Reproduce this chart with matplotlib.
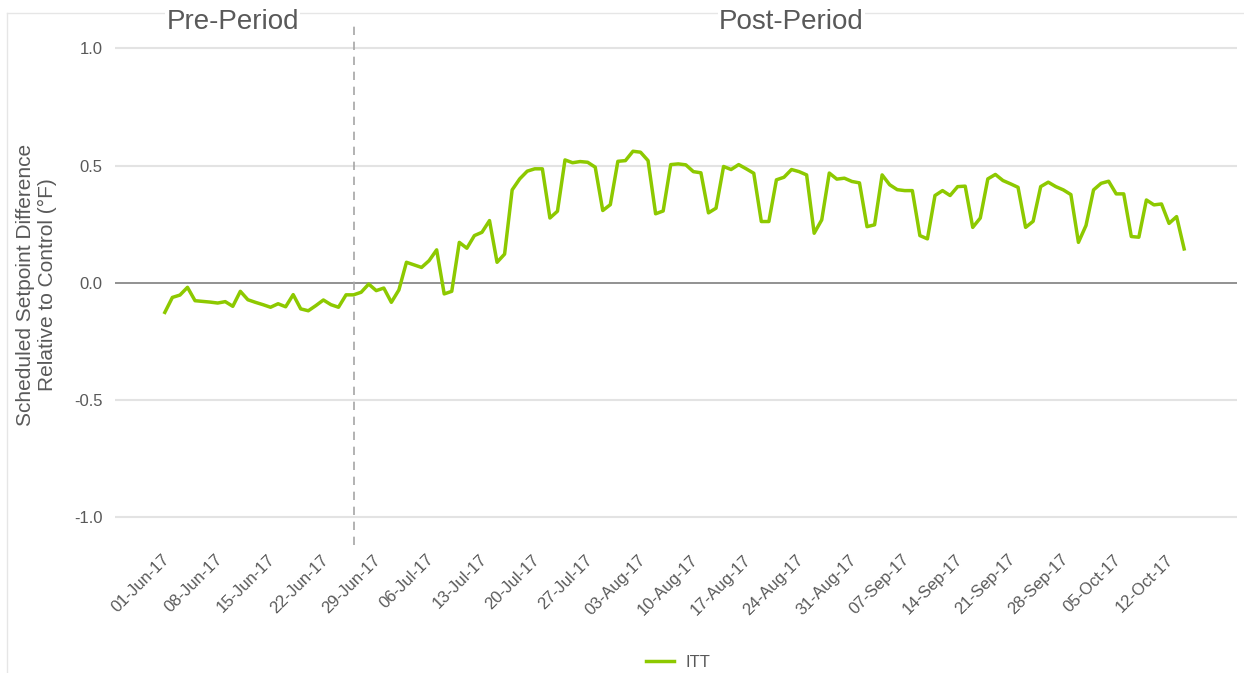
import matplotlib
matplotlib.use("Agg")
import matplotlib.pyplot as plt
import matplotlib.dates as mdates
import matplotlib.transforms as mtransforms
from matplotlib.lines import Line2D
import pandas as pd

plt.rcParams['font.family'] = ['Liberation Sans', 'DejaVu Sans']

# daily ITT estimate, starting 01-Jun-17
itt = [
    -0.127, -0.063, -0.053, -0.020, -0.077, -0.080, -0.083, -0.087, -0.081, -0.101,
    -0.037, -0.073, -0.084, -0.094, -0.105, -0.090, -0.103, -0.051, -0.112, -0.120,
    -0.098, -0.074, -0.094, -0.105, -0.052, -0.052, -0.041, -0.006, -0.034, -0.023,
    -0.084, -0.031, 0.087, 0.076, 0.065, 0.094, 0.140, -0.048, -0.037, 0.172,
    0.147, 0.201, 0.215, 0.265, 0.087, 0.122, 0.396, 0.443, 0.476, 0.486,
    0.486, 0.276, 0.305, 0.524, 0.512, 0.517, 0.514, 0.493, 0.308, 0.333,
    0.518, 0.521, 0.561, 0.557, 0.521, 0.294, 0.306, 0.504, 0.507, 0.503,
    0.474, 0.469, 0.298, 0.318, 0.496, 0.483, 0.504, 0.486, 0.467, 0.261,
    0.261, 0.439, 0.450, 0.483, 0.474, 0.460, 0.211, 0.268, 0.468, 0.442,
    0.446, 0.432, 0.426, 0.239, 0.247, 0.460, 0.418, 0.397, 0.393, 0.393,
    0.201, 0.187, 0.372, 0.393, 0.372, 0.410, 0.412, 0.236, 0.276, 0.443,
    0.462, 0.436, 0.422, 0.407, 0.236, 0.262, 0.410, 0.429, 0.410, 0.396,
    0.376, 0.172, 0.244, 0.396, 0.424, 0.433, 0.379, 0.379, 0.197, 0.194,
    0.353, 0.332, 0.336, 0.253, 0.282, 0.144,
]
dates = pd.date_range("2017-06-01", periods=len(itt), freq="D")
post_start = pd.Timestamp("2017-06-26")
yticks = [-1.0, -0.5, 0.0, 0.5, 1.0]

fig = plt.figure(figsize=(12.44, 6.73), dpi=100)
ax = fig.add_axes([115 / 1244, 1 - 545 / 673, (1237 - 115) / 1244, (545 - 25) / 673])

for y in yticks:
    if y == 0:
        ax.axhline(y, color="#7f7f7f", lw=1.2, zorder=1)
    else:
        ax.axhline(y, color="#e3e3e3", lw=1.5, zorder=0)

ax.plot(dates, itt, color="#8dc900", lw=2.5, label="ITT", zorder=3)
ax.axvline(post_start, color="#a6a6a6", lw=1.2, ls=(0, (5, 4)), zorder=2)

ax.set_ylim(-1.12, 1.1)
ax.set_xlim(dates[0] - pd.Timedelta(days=6.6), dates[0] + pd.Timedelta(days=142))
ax.set_yticks(yticks)
ax.set_yticklabels([f"{v:.1f}" for v in yticks])
ax.set_xticks(pd.date_range("2017-06-01", "2017-10-12", freq="7D"))
ax.xaxis.set_major_formatter(mdates.DateFormatter("%d-%b-%y"))
ax.tick_params(axis="both", length=0, labelsize=12, colors="#595959")
ax.tick_params(axis="x", pad=5)
ax.tick_params(axis="y", pad=9)
shift = mtransforms.ScaledTranslation(-3 / 100, 0, fig.dpi_scale_trans)
for lab in ax.get_xticklabels():
    lab.set_rotation(45)
    lab.set_ha("right")
    lab.set_rotation_mode("anchor")
    lab.set_transform(lab.get_transform() + shift)
for s in ax.spines.values():
    s.set_visible(False)

ax.set_ylabel("Scheduled Setpoint Difference\nRelative to Control (°F)",
              fontsize=15, color="#595959", labelpad=12)

box = dict(facecolor="white", edgecolor="none", pad=1)
ax.text(pd.Timestamp("2017-06-10"), 1.113, "Pre-Period", fontsize=20,
        color="#595959", ha="center", va="center", bbox=box, zorder=5)
ax.text(pd.Timestamp("2017-08-23"), 1.113, "Post-Period", fontsize=20,
        color="#595959", ha="center", va="center", bbox=box, zorder=5)

fig.legend(loc="lower center", bbox_to_anchor=(0.545, -0.018), frameon=False,
           fontsize=12, labelcolor="#595959", handlelength=1.7, handletextpad=0.7)

# light outer frame
fig.add_artist(Line2D([7 / 1244, 1.0], [1 - 13 / 673] * 2, color="#e6e6e6", lw=1, zorder=0))
fig.add_artist(Line2D([7 / 1244] * 2, [0, 1 - 13 / 673], color="#e6e6e6", lw=1, zorder=0))

fig.savefig("out.png", dpi=100)
